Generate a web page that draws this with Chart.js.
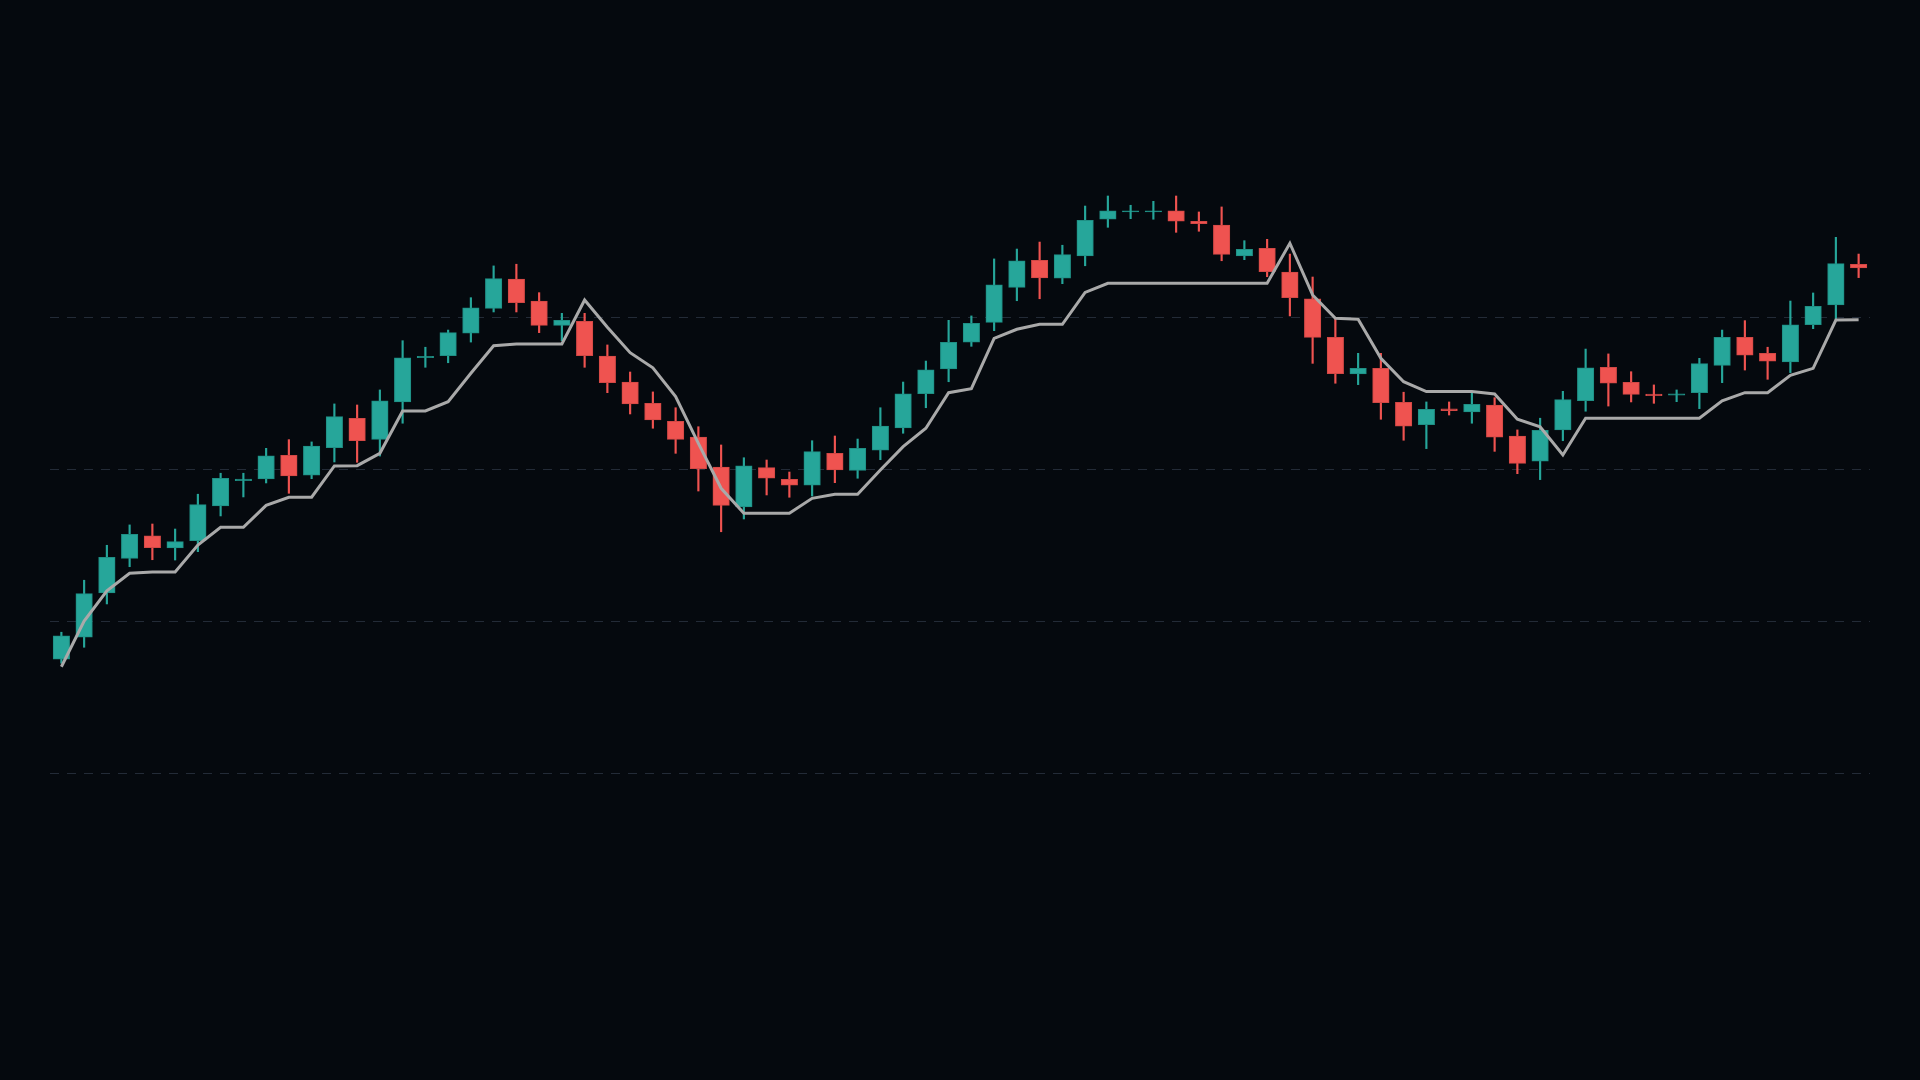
<!DOCTYPE html>
<html>
<head>
<meta charset="utf-8">
<script src="https://cdn.jsdelivr.net/npm/chart.js@4.4.0/dist/chart.umd.min.js"></script>
<style>
html,body{margin:0;padding:0;background:#05090e;}
#wrap{width:1920px;height:1080px;position:relative;}
canvas{display:block;}
</style>
</head>
<body>
<div id="wrap"><canvas id="c" width="1920" height="1080"></canvas></div>
<script>
// Candle data (price units)
const labels = Array.from({length: 80}, (_, i) => 'D' + (i + 1));
const opens = [87.50,88.95,91.86,94.14,95.63,94.82,95.30,97.59,99.25,99.36,100.92,99.62,101.42,103.36,101.97,104.43,107.34,107.47,108.95,110.59,
  112.52,111.07,109.47,109.74,107.45,105.74,104.34,103.16,102.12,100.15,97.52,100.11,99.34,98.95,101.05,99.93,101.25,102.72,104.97,106.60,
  108.36,109.67,111.97,113.75,112.57,114.03,116.45,116.93,116.93,117.01,116.32,116.07,114.03,114.54,112.98,111.22,108.68,106.27,106.64,104.41,
  102.93,103.97,103.77,104.23,102.19,100.53,102.59,104.51,106.71,105.72,104.95,104.87,105.04,106.84,108.68,107.63,107.06,109.51,110.81,113.49];
const highs = [89.28,92.70,95.00,96.34,96.40,96.07,98.36,99.74,99.74,101.38,101.95,101.80,104.30,104.23,105.22,108.46,108.03,109.16,111.29,113.38,
  113.49,111.62,110.26,110.26,108.18,106.40,105.09,104.05,102.80,101.60,100.76,100.61,99.82,101.88,102.19,101.99,104.05,105.74,107.12,109.80,
  110.09,113.84,114.49,114.95,114.74,117.32,117.98,117.37,117.63,117.98,116.93,117.26,115.04,115.13,114.16,112.65,109.87,107.63,107.63,105.07,
  104.43,104.43,105.13,104.71,102.59,103.36,105.13,107.91,107.59,106.42,105.55,105.22,107.30,109.16,109.78,108.03,111.07,111.60,115.26,114.16];
const lows = [87.24,88.29,91.14,93.59,94.05,94.03,94.58,96.93,98.18,99.10,98.42,99.38,100.48,100.46,100.87,103.03,106.71,107.01,108.37,110.35,
  110.35,108.99,108.46,106.71,105.04,103.64,102.70,101.05,98.57,95.89,96.73,98.31,98.16,98.24,99.12,99.41,100.63,102.37,104.05,105.76,
  108.09,109.12,111.09,111.22,112.21,113.39,115.92,116.49,116.45,115.59,115.66,113.72,113.79,112.67,110.09,106.97,105.66,105.57,103.29,101.91,
  101.36,103.57,103.03,101.18,99.71,99.32,101.88,103.82,104.16,104.43,104.34,104.45,103.99,105.70,106.53,105.92,106.36,109.25,109.89,112.61];
const closes = [89.05,91.82,94.21,95.72,94.84,95.24,97.67,99.41,99.36,100.89,99.56,101.53,103.46,101.88,104.51,107.34,107.43,108.99,110.63,112.54,
  110.96,109.47,109.80,107.47,105.70,104.30,103.24,101.97,100.04,97.63,100.22,99.41,98.95,101.16,99.95,101.38,102.85,104.97,106.55,108.36,
  109.61,112.13,113.72,112.59,114.12,116.38,117.01,117.01,117.01,116.32,116.16,114.14,114.47,113.00,111.29,108.68,106.29,106.64,104.38,102.83,
  103.95,103.86,104.28,102.11,100.39,102.57,104.58,106.68,105.66,104.93,104.84,104.97,106.95,108.68,107.50,107.12,109.51,110.72,113.53,113.24];
const lineValues = [87.01,90.02,92.01,93.16,93.24,93.24,95.02,96.18,96.18,97.63,98.16,98.16,100.22,100.24,101.05,103.84,103.84,104.45,106.32,108.13,
  108.24,108.24,108.24,111.14,109.34,107.67,106.68,104.78,101.71,98.75,97.11,97.11,97.11,98.09,98.36,98.36,99.95,101.49,102.70,105.04,
  105.30,108.61,109.21,109.54,109.54,111.64,112.24,112.24,112.24,112.24,112.24,112.24,112.24,112.24,114.87,111.47,109.93,109.87,107.30,105.76,
  105.11,105.11,105.11,104.95,103.29,102.80,100.94,103.36,103.36,103.36,103.36,103.36,103.36,104.51,105.04,105.04,106.18,106.64,109.82,109.84];
const gridValues = [80, 90, 100, 110];

const UP = '#26a69a', DOWN = '#ef5350';
const UP_EDGE = '#1f8f84', DOWN_EDGE = '#d24845';
const isUp = opens.map((o, i) => closes[i] >= o);
const bodyColors = isUp.map(u => u ? UP : DOWN);
const edgeColors = isUp.map(u => u ? UP_EDGE : DOWN_EDGE);

const ctx = document.getElementById('c').getContext('2d');
new Chart(ctx, {
  type: 'bar',
  data: {
    labels: labels,
    datasets: [
      {
        type: 'line',
        data: lineValues,
        borderColor: '#a9a9a9',
        borderWidth: 3,
        pointRadius: 0,
        tension: 0,
        fill: false,
        order: 0
      },
      {
        data: opens.map((o, i) => [o, closes[i]]),
        backgroundColor: bodyColors,
        borderColor: edgeColors,
        borderWidth: 1,
        borderSkipped: false,
        barThickness: 16.5,
        grouped: false,
        order: 1
      },
      {
        data: lows.map((l, i) => [l, highs[i]]),
        backgroundColor: bodyColors,
        borderWidth: 0,
        barThickness: 1.5,
        grouped: false,
        order: 2
      }
    ]
  },
  options: {
    responsive: false,
    animation: false,
    devicePixelRatio: 1,
    layout: { padding: { left: 50, right: 50, top: 0, bottom: 0 } },
    plugins: { legend: { display: false }, tooltip: { enabled: false } },
    scales: {
      x: {
        type: 'category',
        offset: true,
        grid: { display: false, drawTicks: false },
        border: { display: false },
        ticks: { display: false }
      },
      y: {
        min: 59.82,
        max: 130.875,
        afterBuildTicks: (axis) => { axis.ticks = gridValues.map(v => ({ value: v })); },
        grid: { color: '#232b37', lineWidth: 1, drawTicks: false },
        border: { display: false, dash: [9, 8] },
        ticks: { display: false }
      }
    }
  }
});
</script>
</body>
</html>
